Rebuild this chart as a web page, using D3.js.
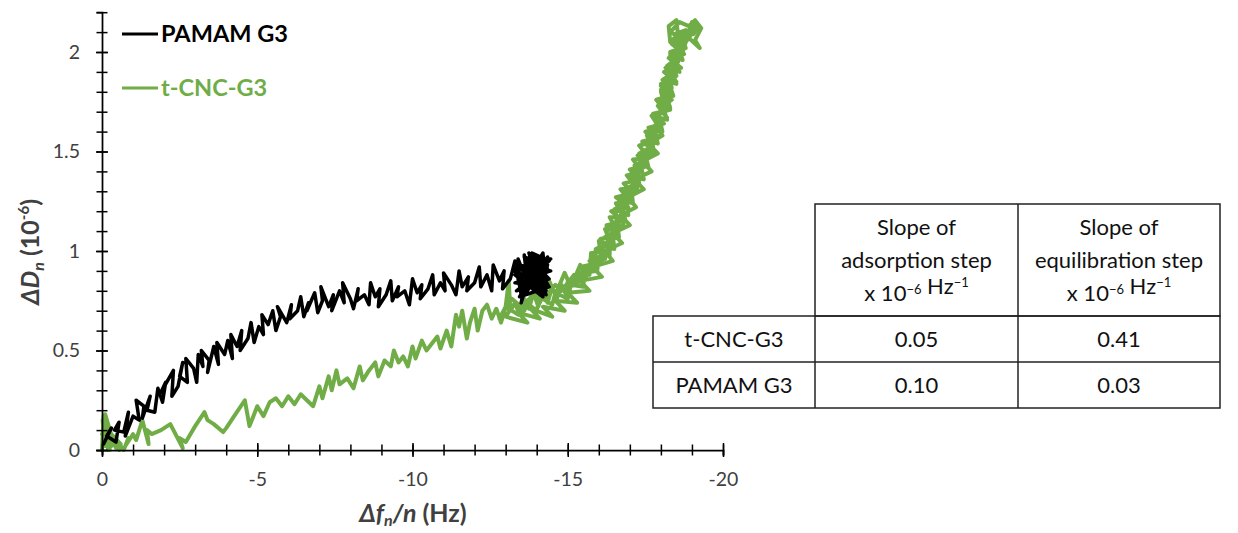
<!DOCTYPE html>
<html>
<head>
<meta charset="utf-8">
<script src="https://cdn.jsdelivr.net/npm/d3@7"></script>
<style>
  html, body { margin: 0; padding: 0; background: #fff; }
  svg { display: block; font-family: Lato, "Open Sans", sans-serif; }
</style>
</head>
<body>
<svg id="chart" width="1238" height="533"></svg>
<script>
// ---------- DATA ----------
const seriesNames = ["PAMAM G3", "t-CNC-G3"];
const seriesColors = ["#000000", "#70AD47"];

const xMajorTicks = [0, -5, -10, -15, -20];
const xMinorTicks = [0,-1,-2,-3,-4,-5,-6,-7,-8,-9,-10,-11,-12,-13,-14,-15,-16,-17,-18,-19,-20];
const yMajorTicks = [0, 0.5, 1, 1.5, 2];
const yMinorTicks = [0,0.1,0.2,0.3,0.4,0.5,0.6,0.7,0.8,0.9,1,1.1,1.2,1.3,1.4,1.5,1.6,1.7,1.8,1.9,2,2.1,2.2];

// PAMAM G3 : [Δf/n (Hz), ΔD (1e-6)]
const pamam = [
 [-0.05,0.03],[-0.3,0.11],[-0.15,0.07],[-0.45,0.04],[-0.55,0.14],[-0.4,0.10],[-0.7,0.09],[-0.85,0.19],[-0.75,0.07],
 [-1.0,0.17],[-1.2,0.15],[-1.1,0.25],[-1.35,0.22],[-1.3,0.16],[-1.55,0.27],[-1.45,0.20],[-1.7,0.19],[-1.8,0.31],
 [-1.95,0.24],[-2.05,0.34],[-1.9,0.29],[-2.3,0.40],[-2.25,0.27],[-2.45,0.32],[-2.6,0.44],[-2.5,0.37],[-2.75,0.34],
 [-2.7,0.46],[-2.95,0.41],[-3.05,0.34],[-3.1,0.48],[-3.25,0.42],[-3.2,0.50],[-3.45,0.45],[-3.4,0.39],[-3.6,0.52],
 [-3.75,0.43],[-3.7,0.54],[-3.95,0.48],[-4.05,0.55],[-4.2,0.46],[-4.15,0.58],[-4.35,0.52],[-4.5,0.60],[-4.45,0.50],
 [-4.7,0.56],[-4.8,0.64],[-4.9,0.54],[-5.05,0.62],
 [-5.2,0.58],[-5.15,0.68],[-5.35,0.63],[-5.5,0.70],[-5.6,0.60],[-5.75,0.67],[-5.65,0.72],[-5.95,0.64],[-6.1,0.73],
 [-6.05,0.66],[-6.3,0.70],[-6.4,0.77],[-6.5,0.67],[-6.65,0.74],[-6.6,0.70],[-6.85,0.79],[-6.95,0.69],[-7.1,0.75],
 [-7.05,0.82],[-7.3,0.72],[-7.45,0.78],[-7.4,0.70],[-7.65,0.80],[-7.8,0.74],[-7.75,0.84],[-8.0,0.76],[-8.1,0.71],
 [-8.25,0.81],[-8.2,0.75],[-8.45,0.78],[-8.6,0.73],[-8.65,0.84],[-8.8,0.77],[-8.95,0.81],[-8.9,0.72],[-9.15,0.78],
 [-9.3,0.85],[-9.35,0.75],[-9.55,0.82],[-9.5,0.77],[-9.75,0.80],[-9.9,0.73],[-10.0,0.86],
 [-10.15,0.79],[-10.3,0.83],[-10.25,0.76],[-10.5,0.81],[-10.65,0.88],[-10.7,0.78],[-10.9,0.84],[-11.05,0.80],
 [-11.0,0.89],[-11.25,0.83],[-11.4,0.78],[-11.5,0.90],[-11.6,0.82],[-11.8,0.87],[-11.75,0.80],[-12.0,0.84],
 [-12.15,0.92],[-12.2,0.82],[-12.4,0.88],[-12.55,0.80],[-12.6,0.93],[-12.8,0.85],[-12.95,0.90],[-12.9,0.81],
 [-13.15,0.86],[-13.3,0.95],
 [-13.5,0.78],[-13.4,0.96],[-13.7,0.84],[-13.6,0.98],[-13.9,0.80],[-14.0,0.97],[-13.8,0.88],[-14.2,0.99],
 [-14.3,0.84],[-14.1,0.78],[-14.35,0.93],[-13.95,0.91],[-13.65,0.79],[-13.3,0.90],[-13.55,0.86],[-14.25,0.88],
 [-13.75,0.95],[-14.15,0.85],[-13.45,0.83],[-14.4,0.95],[-13.85,0.99],[-14.3,0.78],[-13.6,0.92],[-14.05,0.89],
 [-13.35,0.80],[-14.4,0.86],[-13.9,0.94],[-13.5,0.74],[-13.7,0.90],[-14.2,0.81],[-14.35,0.97],[-13.8,0.83],
 [-13.3,0.84],[-14.45,0.90],[-13.4,0.93],[-14.3,0.80],[-13.6,0.97],[-14.1,0.94],[-13.45,0.77],[-14.4,0.82],
 [-13.75,0.99],[-14.2,0.77],[-13.3,0.88],[-14.35,0.91],[-13.55,0.81],[-13.95,0.98],[-14.25,0.83],[-13.65,0.87],
 [-14.05,0.80],[-13.85,0.92],[-14.45,0.96],[-13.5,0.91],[-14.15,0.97],[-13.7,0.80],[-14.3,0.93],[-13.4,0.86],
 [-13.9,0.85],[-14.0,0.92]
];

// t-CNC-G3 : [Δf/n (Hz), ΔD (1e-6)]
const tcnc = [
 [0,0],[-0.05,0.17],[-0.1,0.02],[-0.02,0.15],[-0.2,0.0],[-0.05,0.12],[-0.3,0.02],[-0.1,0.18],[-0.35,0.05],
 [0,0.08],[-0.25,0.0],[-0.15,0.14],[-0.45,0.01],[-0.2,0.10],[-0.55,0.0],[-0.3,0.08],[-0.6,0.03],[-0.4,0.06],
 [-0.7,0.0],[-0.85,0.06],[-0.75,0.02],[-1.0,0.08],[-1.1,0.05],[-1.3,0.15],[-1.5,0.03],[-1.45,0.10],[-1.6,0.08],
 [-1.9,0.10],[-2.2,0.13],[-2.6,0.01],[-2.5,0.06],[-2.7,0.04],[-3.0,0.12],[-3.3,0.19],[-3.4,0.15],[-3.6,0.13],
 [-3.9,0.09],[-4.0,0.11],[-4.3,0.18],[-4.6,0.25],[-4.75,0.12],[-4.85,0.16],[-5.0,0.22],[-5.2,0.17],[-5.4,0.24],
 [-5.6,0.26],[-5.8,0.22],[-6.0,0.27],[-6.2,0.23],[-6.4,0.28],[-6.6,0.25],[-6.8,0.22],[-7.0,0.32],[-7.1,0.26],
 [-7.3,0.37],[-7.4,0.30],[-7.55,0.40],[-7.65,0.33],[-7.9,0.36],[-8.1,0.31],[-8.3,0.42],[-8.4,0.35],[-8.6,0.40],
 [-8.8,0.44],[-8.9,0.37],[-9.1,0.45],[-9.3,0.42],[-9.4,0.50],[-9.55,0.44],[-9.7,0.47],[-9.85,0.42],[-10.0,0.52],
 [-10.1,0.46],[-10.3,0.55],[-10.45,0.50],[-10.6,0.53],[-10.8,0.57],[-10.9,0.51],[-11.1,0.60],[-11.25,0.52],
 [-11.4,0.68],[-11.5,0.62],[-11.6,0.70],[-11.75,0.56],[-11.85,0.64],[-12.0,0.71],[-12.1,0.60],[-12.25,0.70],
 [-12.4,0.73],[-12.55,0.66],[-12.7,0.71],[-12.85,0.64],[-13.0,0.72],[-13.1,0.85],[-13.15,0.70],[-13.3,0.74],
 [-13.45,0.68],[-13.6,0.76],[-13.75,0.71],[-13.9,0.79],[-14.05,0.72],[-14.2,0.80],[-14.35,0.74],[-14.5,0.82],
 [-14.65,0.76],[-14.8,0.83],[-14.95,0.78],
 // pass A (up)
 [-15.0,0.85],[-15.6,0.87],[-15.4,0.92],[-16.0,0.94],[-15.8,0.99],[-16.4,1.01],[-16.05,1.06],[-16.55,1.08],
 [-16.25,1.13],[-16.8,1.15],[-16.4,1.20],[-16.95,1.22],[-16.55,1.27],[-17.1,1.29],[-16.8,1.34],[-17.35,1.36],
 [-17.0,1.41],[-17.55,1.43],[-17.25,1.48],[-17.8,1.50],[-17.4,1.55],[-17.95,1.57],[-17.6,1.62],[-18.1,1.64],
 [-17.75,1.69],[-18.3,1.71],[-17.9,1.76],[-18.4,1.78],[-18.0,1.83],[-18.5,1.85],[-18.1,1.90],[-18.65,1.92],
 [-18.25,1.97],[-18.75,1.99],[-18.35,2.04],[-18.8,2.06],
 [-18.3,2.10],[-18.6,2.15],[-18.9,2.13],[-19.1,2.16],[-19.3,2.12],[-19.1,2.06],[-19.25,2.02],[-18.9,2.07],
 [-18.7,2.03],[-18.5,2.08],[-18.3,2.05],[-18.25,2.13],[-18.5,2.16],
 // pass B (down)
 [-18.6,2.01],[-18.3,1.98],[-18.55,1.93],[-18.2,1.90],[-18.45,1.85],[-18.0,1.81],[-18.35,1.76],[-17.95,1.72],
 [-18.2,1.67],[-17.8,1.63],[-18.05,1.58],[-17.6,1.54],[-17.9,1.49],[-17.4,1.45],[-17.7,1.40],[-17.15,1.36],
 [-17.45,1.31],[-16.95,1.27],[-17.2,1.22],[-16.7,1.18],[-17.0,1.13],[-16.45,1.09],[-16.75,1.04],[-16.2,1.00],
 [-16.45,0.95],[-15.8,0.92],[-16.1,0.87],[-15.4,0.85],[-15.7,0.80],[-15.0,0.79],[-15.3,0.74],[-14.6,0.75],
 [-14.9,0.70],[-14.2,0.72],[-14.5,0.67],[-13.8,0.71],[-14.1,0.66],[-13.4,0.69],[-13.7,0.64],[-13.0,0.67],
 // pass C (up)
 [-13.3,0.74],[-13.6,0.70],[-13.9,0.80],[-14.1,0.74],[-14.4,0.85],[-14.6,0.78],[-14.9,0.89],[-15.1,0.82],
 [-15.4,0.93],[-15.7,0.88],[-15.75,0.99],[-16.1,0.95],[-16.0,1.05],[-16.4,1.03],[-16.2,1.11],[-16.6,1.10],
 [-16.35,1.17],[-16.8,1.17],[-16.55,1.24],[-17.0,1.25],[-16.7,1.31],[-17.2,1.32],[-16.9,1.38],[-17.4,1.40],
 [-17.1,1.46],[-17.6,1.47],[-17.3,1.53],[-17.8,1.55],[-17.5,1.60],[-17.95,1.62],[-17.7,1.68],[-18.15,1.70],
 [-17.85,1.76],[-18.3,1.78],[-18.0,1.84],[-18.45,1.86],[-18.15,1.92],[-18.55,1.95],[-18.3,2.00],[-18.7,2.02],
 [-18.45,2.09],[-18.8,2.11],[-19.05,2.09],[-19.2,2.13],[-19.0,2.15],
 // pass D (down)
 [-18.8,2.05],[-18.65,1.97],[-18.35,1.95],[-18.5,1.88],[-18.2,1.86],[-18.3,1.79],[-18.05,1.77],[-18.15,1.70],
 [-17.85,1.68],[-17.95,1.61],[-17.7,1.59],[-17.75,1.52],[-17.45,1.50],[-17.55,1.43],[-17.25,1.41],[-17.3,1.34],
 [-17.0,1.32],[-17.05,1.25],[-16.75,1.23],[-16.85,1.16],[-16.55,1.14],[-16.6,1.07],[-16.35,1.05],[-16.35,0.98],
 [-16.0,0.97],[-15.95,0.90],[-15.55,0.89],[-15.5,0.82],[-15.1,0.83],[-15.0,0.76],[-14.6,0.79],[-14.5,0.73],
 [-14.1,0.77],[-14.0,0.70],[-13.6,0.75],[-13.4,0.68],[-13.0,0.72],[-12.8,0.66],
 // pass E (up)
 [-13.2,0.76],[-13.5,0.72],[-13.9,0.78],[-14.2,0.76],[-14.6,0.83],[-14.8,0.80],[-15.2,0.88],[-15.5,0.86],
 [-15.9,0.94],[-15.9,1.01],[-16.3,1.04],[-16.25,1.12],[-16.6,1.14],[-16.5,1.21],[-16.9,1.24],[-16.8,1.31],
 [-17.15,1.33],[-17.05,1.40],[-17.45,1.42],[-17.35,1.49],[-17.7,1.52],[-17.55,1.58],[-17.9,1.61],[-17.8,1.68],
 [-18.15,1.72],[-18.0,1.80],[-18.35,1.82],[-18.2,1.89],[-18.55,1.91],[-18.4,1.98],[-18.7,2.00],[-18.55,2.07],
 [-18.85,2.10],[-19.1,2.11],
 // pass F (down)
 [-18.4,2.05],[-18.6,2.02],[-18.3,1.99],[-18.45,1.96],[-18.2,1.93],[-18.35,1.89],[-18.05,1.86],[-18.25,1.83],
 [-18.0,1.80],[-18.15,1.76],[-17.9,1.73],[-18.05,1.70],[-17.75,1.67],[-17.95,1.64],[-17.65,1.61],[-17.8,1.58],
 [-17.5,1.55],[-17.65,1.52],[-17.3,1.49],[-17.5,1.46],[-17.15,1.43],[-17.35,1.40],[-17.0,1.37],[-17.2,1.34],
 [-16.85,1.31],[-17.0,1.28],[-16.65,1.25],[-16.85,1.22],[-16.5,1.19],[-16.7,1.16],[-16.35,1.13],[-16.55,1.10],
 [-16.2,1.07],[-16.4,1.04],[-16.0,1.01],[-16.2,0.98],[-15.7,0.95],[-15.95,0.92],[-15.4,0.89],[-15.6,0.86],
 [-15.1,0.83],
 // pass G (up)
 [-15.3,0.88],[-15.5,0.85],[-15.7,0.93],[-15.85,0.90],[-16.05,0.98],[-16.2,0.96],[-16.3,1.03],[-16.5,1.01],
 [-16.45,1.08],[-16.65,1.07],[-16.6,1.13],[-16.8,1.12],[-16.75,1.19],[-16.95,1.18],[-16.9,1.25],[-17.1,1.24],
 [-17.05,1.31],[-17.25,1.30],[-17.2,1.37],[-17.45,1.36],[-17.35,1.43],[-17.6,1.42],[-17.5,1.49],[-17.75,1.48],
 [-17.65,1.55],[-17.9,1.54],[-17.8,1.61],[-18.05,1.60],[-17.95,1.67],[-18.2,1.66],[-18.05,1.73],[-18.3,1.72],
 [-18.15,1.79],[-18.4,1.78],[-18.25,1.85],[-18.5,1.84],[-18.35,1.91],[-18.6,1.90],[-18.45,1.97],[-18.7,1.96],
 [-18.55,2.03],[-18.8,2.02],[-18.65,2.09],[-18.95,2.08],[-19.1,2.14]
];

// Table
const tableHeader = ["", "Slope of|adsorption step|x 10^−6 Hz^−1", "Slope of|equilibration step|x 10^−6 Hz^−1"];
const tableRowNames = ["t-CNC-G3", "PAMAM G3"];
const adsorptionSlopes = ["0.05", "0.10"];
const equilibrationSlopes = ["0.41", "0.03"];

// ---------- DRAW ----------
const svg = d3.select("#chart");
const x = d3.scaleLinear().domain([0, -20]).range([102, 723]);
const y = d3.scaleLinear().domain([0, 2.2]).range([450, 12.2]);
const axisColor = "#000";
const labelColor = "#404040";
const strokeWidths = [3.5, 4];

// series lines (green first, black on top)
const line = d3.line().x(d => x(d[0])).y(d => y(d[1]));
const series = [pamam, tcnc];
[1, 0].forEach(i => {
  svg.append("path")
    .datum(series[i])
    .attr("d", line)
    .attr("fill", "none")
    .attr("stroke", seriesColors[i])
    .attr("stroke-width", strokeWidths[i])
    .attr("stroke-linejoin", "round")
    .attr("stroke-linecap", "round");
});

// X axis minor ticks (crossing)
const gx = svg.append("g").attr("transform", `translate(0,${y(0)})`)
  .call(d3.axisBottom(x).tickValues(xMinorTicks).tickSize(5.5).tickFormat(""));
gx.select(".domain").attr("stroke", axisColor).attr("stroke-width", 1.75);
gx.selectAll(".tick line").attr("y1", -5.5).attr("stroke", axisColor).attr("stroke-width", 1.5);

const gxM = svg.append("g").attr("transform", `translate(0,${y(0)})`)
  .call(d3.axisBottom(x).tickValues(xMajorTicks).tickSize(7).tickPadding(15).tickFormat(d => String(d)));
gxM.select(".domain").remove();
gxM.selectAll(".tick line").attr("y1", -7).attr("stroke", axisColor).attr("stroke-width", 1.5);
gxM.selectAll(".tick text").attr("font-size", 19.5).attr("fill", labelColor)
  .attr("font-family", "Lato, sans-serif");

// Y axis
const gy = svg.append("g").attr("transform", `translate(${x(0)},0)`)
  .call(d3.axisLeft(y).tickValues(yMinorTicks).tickSize(5.5).tickFormat(""));
gy.select(".domain").attr("stroke", axisColor).attr("stroke-width", 1.75);
gy.selectAll(".tick line").attr("x1", 5.5).attr("stroke", axisColor).attr("stroke-width", 1.5);

const gyM = svg.append("g").attr("transform", `translate(${x(0)},0)`)
  .call(d3.axisLeft(y).tickValues(yMajorTicks).tickSize(6).tickPadding(16).tickFormat(d => String(d)));
gyM.select(".domain").remove();
gyM.selectAll(".tick line").attr("x1", 6).attr("stroke", axisColor).attr("stroke-width", 1.5);
gyM.selectAll(".tick text").attr("font-size", 19.5).attr("fill", labelColor)
  .attr("font-family", "Lato, sans-serif");

// X axis title
const xt = svg.append("text").attr("x", 413).attr("y", 522).attr("text-anchor", "middle")
  .attr("font-size", 25).attr("font-weight", "bold").attr("fill", labelColor);
xt.append("tspan").attr("font-style", "italic").text("Δf");
xt.append("tspan").attr("font-style", "italic").attr("font-size", 16).attr("dy", 4).text("n");
xt.append("tspan").attr("font-style", "italic").attr("dy", -4).text("/n");
xt.append("tspan").text(" (Hz)");

// Y axis title
const yt = svg.append("text").attr("transform", "translate(39,252) rotate(-90)").attr("text-anchor", "middle")
  .attr("font-size", 25).attr("font-weight", "bold").attr("fill", labelColor);
yt.append("tspan").attr("font-style", "italic").text("ΔD");
yt.append("tspan").attr("font-style", "italic").attr("font-size", 16).attr("dy", 5).text("n");
yt.append("tspan").attr("dy", -5).text(" (10");
yt.append("tspan").attr("font-size", 15).attr("dy", -10).text("-6");
yt.append("tspan").attr("dy", 10).text(")");

// Legend
const legendY = [34, 88];
seriesNames.forEach((name, i) => {
  svg.append("line").attr("x1", 122).attr("x2", 158).attr("y1", legendY[i]).attr("y2", legendY[i])
    .attr("stroke", seriesColors[i]).attr("stroke-width", 3);
  svg.append("text").attr("x", 161).attr("y", legendY[i] + 8).attr("font-size", 23.5)
    .attr("font-weight", "bold").attr("fill", seriesColors[i]).text(name);
});

// Table
const colX = [653, 815, 1018, 1220];
const rowY = [204, 316, 362, 408];
const tg = svg.append("g").attr("stroke", "#222").attr("stroke-width", 1.5).attr("fill", "none");
tg.append("rect").attr("x", colX[1]).attr("y", rowY[0]).attr("width", colX[3] - colX[1]).attr("height", rowY[1] - rowY[0]);
tg.append("line").attr("x1", colX[2]).attr("x2", colX[2]).attr("y1", rowY[0]).attr("y2", rowY[3]);
tg.append("rect").attr("x", colX[0]).attr("y", rowY[1]).attr("width", colX[3] - colX[0]).attr("height", rowY[3] - rowY[1]);
tg.append("line").attr("x1", colX[0]).attr("x2", colX[3]).attr("y1", rowY[2]).attr("y2", rowY[2]);
tg.append("line").attr("x1", colX[1]).attr("x2", colX[1]).attr("y1", rowY[1]).attr("y2", rowY[3]);

const tfont = 22;
const textColor = "#111";
function addRich(g, str, cx, cy) {
  const t = g.append("text").attr("x", cx).attr("y", cy).attr("text-anchor", "middle")
    .attr("font-size", tfont).attr("fill", textColor);
  const parts = str.split(/(\^[^\s]+)/);
  parts.forEach(p => {
    if (!p) return;
    if (p[0] === "^") {
      t.append("tspan").attr("font-size", 13).attr("dy", -7).text(p.slice(1));
      t.append("tspan").attr("dy", 7).text("");
    } else {
      t.append("tspan").text(p);
    }
  });
  return t;
}
[1, 2].forEach(c => {
  const lines = tableHeader[c].split("|");
  const cx = (colX[c] + colX[c + 1]) / 2;
  lines.forEach((ln, k) => addRich(svg, ln, cx, 235 + k * 33));
});
tableRowNames.forEach((name, r) => {
  const cy = (rowY[r + 1] + rowY[r + 2]) / 2 + 8;
  svg.append("text").attr("x", (colX[0] + colX[1]) / 2).attr("y", cy).attr("text-anchor", "middle")
    .attr("font-size", tfont).attr("fill", textColor).text(name);
  svg.append("text").attr("x", (colX[1] + colX[2]) / 2).attr("y", cy).attr("text-anchor", "middle")
    .attr("font-size", tfont).attr("fill", textColor).text(adsorptionSlopes[r]);
  svg.append("text").attr("x", (colX[2] + colX[3]) / 2).attr("y", cy).attr("text-anchor", "middle")
    .attr("font-size", tfont).attr("fill", textColor).text(equilibrationSlopes[r]);
});
</script>
</body>
</html>
